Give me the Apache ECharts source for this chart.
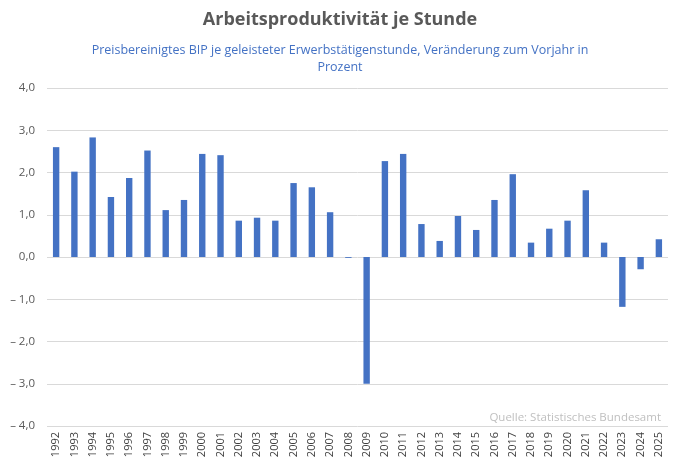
<!DOCTYPE html>
<html lang="de">
<head>
    <meta charset="UTF-8">
    <title>Arbeitsproduktivität je Stunde</title>
    <script src="https://cdn.jsdelivr.net/npm/echarts@6/dist/echarts.min.js"></script>
    <style>
        html, body { margin: 0; padding: 0; background: #fff; }
    </style>
</head>
<body>
<div id="main" style="width:680px;height:467px;"></div>
<script>
var years = ['1992', '1993', '1994', '1995', '1996', '1997', '1998', '1999', '2000', '2001',
    '2002', '2003', '2004', '2005', '2006', '2007', '2008', '2009', '2010', '2011',
    '2012', '2013', '2014', '2015', '2016', '2017', '2018', '2019', '2020', '2021',
    '2022', '2023', '2024', '2025'];

// Veränderung zum Vorjahr in Prozent
var values = [2.6, 2.02, 2.83, 1.42, 1.87, 2.52, 1.11, 1.35, 2.44, 2.41,
    0.86, 0.93, 0.86, 1.75, 1.65, 1.06, -0.02, -3.0, 2.27, 2.44,
    0.78, 0.38, 0.97, 0.64, 1.35, 1.96, 0.34, 0.67, 0.86, 1.58,
    0.34, -1.18, -0.29, 0.42];

var yMin = -4, yMax = 4, yStep = 1;

var font = '"Open Sans", "Noto Sans", sans-serif';

function fmt(v) {
    var s = Math.abs(v).toFixed(1).replace('.', ',');
    return v < 0 ? '\u2013 ' + s : s;
}

var myChart = echarts.init(document.getElementById('main'));

myChart.setOption({
    animation: false,
    title: [{
        text: 'Arbeitsproduktivität je Stunde',
        left: 'center',
        top: 6,
        textStyle: { fontFamily: font, fontSize: 18, fontWeight: 'bold', color: '#595959' }
    }, {
        text: 'Preisbereinigtes BIP je geleisteter Erwerbstätigenstunde, Veränderung zum Vorjahr in\nProzent',
        left: 'center',
        top: 37,
        textStyle: { fontFamily: font, fontSize: 12.5, fontWeight: 'normal', color: '#4472C4', lineHeight: 17, align: 'center' }
    }, {
        text: 'Quelle: Statistisches Bundesamt',
        right: 14,
        top: 407,
        textStyle: { fontFamily: font, fontSize: 11.5, fontWeight: 'normal', color: '#bfbfbf' }
    }],
    grid: { left: 47, right: 12, top: 88, bottom: 41, containLabel: false },
    xAxis: {
        type: 'category',
        data: years,
        axisLine: { show: false, onZero: false },
        axisTick: { show: false },
        axisLabel: { rotate: 90, interval: 0, fontFamily: font, fontSize: 11, color: '#404040', margin: 6 }
    },
    yAxis: {
        type: 'value',
        min: yMin,
        max: yMax,
        interval: yStep,
        axisLine: { show: false },
        axisTick: { show: false },
        splitLine: { lineStyle: { color: '#d9d9d9', width: 1 } },
        axisLabel: { formatter: fmt, fontFamily: font, fontSize: 11.5, color: '#595959', margin: 12 }
    },
    series: [{
        type: 'bar',
        data: values,
        barWidth: '35%',
        itemStyle: { color: '#4472C4' }
    }]
});
</script>
</body>
</html>
